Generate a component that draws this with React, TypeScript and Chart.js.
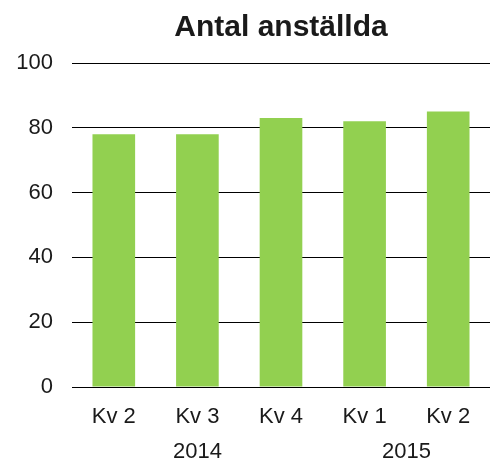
import React, { useEffect, useRef } from "react";
import { Chart, registerables } from "chart.js";

Chart.register(...registerables);

const titleText = "Antal anställda";
const categories = ["Kv 2", "Kv 3", "Kv 4", "Kv 1", "Kv 2"];
const values = [78, 78, 83, 82, 85];
const yearLabels = ["2014", "2015"];
const yearFirstIndex = [1, 3];
const yearLastIndex = [1, 4];

const FONT = "'Liberation Sans', Arial, sans-serif";
const TEXT = "#1a1a1a";

const extraText = {
  id: "extraText",
  afterDraw(chart: any) {
    const { ctx, chartArea, scales } = chart;
    const x = scales.x;
    ctx.save();
    ctx.fillStyle = TEXT;
    ctx.textAlign = "center";
    ctx.textBaseline = "alphabetic";
    ctx.font = `bold 30px ${FONT}`;
    ctx.fillText(titleText, (chartArea.left + chartArea.right) / 2, 36);
    ctx.font = `22px ${FONT}`;
    yearLabels.forEach((lbl, i) => {
      const cx = (x.getPixelForValue(yearFirstIndex[i]) + x.getPixelForValue(yearLastIndex[i])) / 2;
      ctx.fillText(lbl, cx, 458);
    });
    ctx.restore();
  },
};

export default function App() {
  const ref = useRef<HTMLCanvasElement>(null);
  useEffect(() => {
    const chart = new Chart(ref.current!, {
      type: "bar",
      data: {
        labels: categories,
        datasets: [
          {
            data: values,
            backgroundColor: "#92D050",
            categoryPercentage: 1,
            barPercentage: 0.51,
          },
        ],
      },
      options: {
        animation: false,
        responsive: false,
        maintainAspectRatio: false,
        layout: { padding: { top: 63, bottom: 0, left: 0, right: 0 } },
        plugins: { legend: { display: false }, title: { display: false }, tooltip: { enabled: false } },
        scales: {
          x: {
            grid: { display: false },
            border: { display: false },
            ticks: { color: TEXT, font: { family: FONT, size: 22 }, padding: 9, maxRotation: 0 },
            afterFit: (s: any) => {
              s.height = 72;
            },
          },
          y: {
            min: 0,
            max: 100,
            grid: { color: "#000", lineWidth: 1, drawTicks: false },
            border: { display: false },
            ticks: { stepSize: 20, color: TEXT, font: { family: FONT, size: 22 }, padding: 19 },
            afterFit: (s: any) => {
              s.width = 72;
            },
          },
        },
      },
      plugins: [extraText],
    });
    return () => chart.destroy();
  }, []);
  return (
    <div style={{ position: "fixed", left: 0, top: 0, width: 490, height: 459, background: "#fff" }}>
      <canvas ref={ref} width={490} height={459} />
    </div>
  );
}
